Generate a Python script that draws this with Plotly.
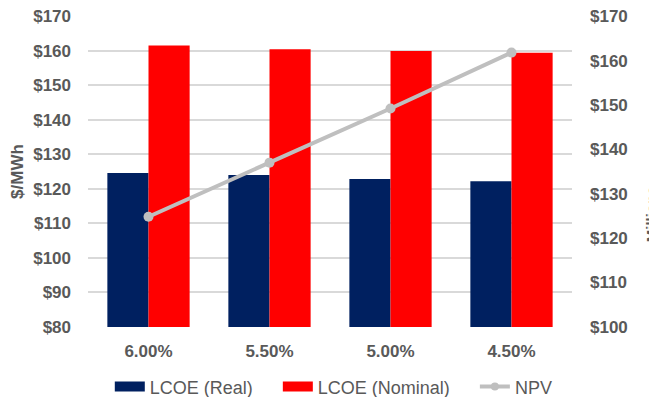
import plotly.graph_objects as go

categories = ["6.00%", "5.50%", "5.00%", "4.50%"]
lcoe_real = [124.6, 124.0, 122.8, 122.2]
lcoe_nominal = [161.5, 160.4, 159.9, 159.4]
npv = [124.8, 137.0, 149.2, 161.8]

left_ticks = [80, 90, 100, 110, 120, 130, 140, 150, 160, 170]
right_ticks = [100, 110, 120, 130, 140, 150, 160, 170]

gray = "#595959"
navy = "#002060"
red = "#ff0000"
lgray = "#bfbfbf"
font = "Liberation Sans, Arial, sans-serif"
pad = "\u00a0" * 4

# tiny range padding so the edge gridlines ($80 / $170) are drawn
eps1 = 0.06
eps2 = eps1 * 70 / 90

fig = go.Figure()
fig.add_trace(go.Bar(x=categories, y=lcoe_real, name="LCOE (Real)",
                     legendgroup="real", showlegend=False,
                     marker=dict(color=navy, line=dict(width=0))))
fig.add_trace(go.Bar(x=categories, y=lcoe_nominal, name="LCOE (Nominal)",
                     legendgroup="nom", showlegend=False,
                     marker=dict(color=red, line=dict(width=0))))
fig.add_trace(go.Scatter(x=categories, y=npv, name="NPV", yaxis="y2",
                         mode="lines+markers", showlegend=False,
                         line=dict(color=lgray, width=4),
                         marker=dict(color=lgray, size=10)))
# legend entries (wide swatches like the original)
fig.add_trace(go.Scatter(x=[None], y=[None], name="LCOE (Real)" + pad, legendgroup="real",
                         mode="lines", line=dict(color=navy, width=11)))
fig.add_trace(go.Scatter(x=[None], y=[None], name="LCOE (Nominal)" + pad, legendgroup="nom",
                         mode="lines", line=dict(color=red, width=11)))
fig.add_trace(go.Scatter(x=[None], y=[None], name="NPV", yaxis="y2",
                         mode="lines+markers",
                         line=dict(color=lgray, width=4),
                         marker=dict(color=lgray, size=8)))

fig.update_layout(
    width=649, height=389,
    margin=dict(l=80, r=85, t=8, b=70),
    paper_bgcolor="white", plot_bgcolor="white",
    barmode="group", bargap=0.32, bargroupgap=0,
    font=dict(family=font, color=gray, size=17),
    xaxis=dict(showgrid=False, showline=False, ticks="", automargin=False,
               tickfont=dict(family=font, size=17, color=gray, weight="bold"),
               ticklabelstandoff=12),
    yaxis=dict(range=[80 - eps1, 170 + eps1], tickvals=left_ticks,
               ticktext=[f"${v}" for v in left_ticks],
               showgrid=True, gridcolor="#d9d9d9", gridwidth=1.5,
               zeroline=False, showline=False, automargin=False,
               ticklabeloverflow="allow",
               tickfont=dict(family=font, size=17, color=gray, weight="bold"),
               ticklabelstandoff=16,
               title=dict(text="$/MWh", standoff=14,
                          font=dict(family=font, size=17, color=gray, weight="bold"))),
    yaxis2=dict(range=[100 - eps2, 170 + eps2], tickvals=right_ticks,
                ticktext=[f"${v}" for v in right_ticks],
                overlaying="y", side="right", showgrid=False, zeroline=False,
                automargin=False, ticklabeloverflow="allow",
                tickfont=dict(family=font, size=17, color=gray, weight="bold"),
                ticklabelstandoff=17),
    legend=dict(orientation="h", xref="container", yref="container",
                x=0.502, xanchor="center", y=0.026, yanchor="middle",
                font=dict(family=font, size=18, color=gray),
                traceorder="normal", itemwidth=30),
    annotations=[dict(text="<b>Millions</b>", textangle=-90, xref="paper", yref="paper",
                      x=1.165, y=0.362, xanchor="center", yanchor="middle",
                      showarrow=False,
                      font=dict(family=font, size=15, color=gray))],
)

fig.write_html("out.html")
